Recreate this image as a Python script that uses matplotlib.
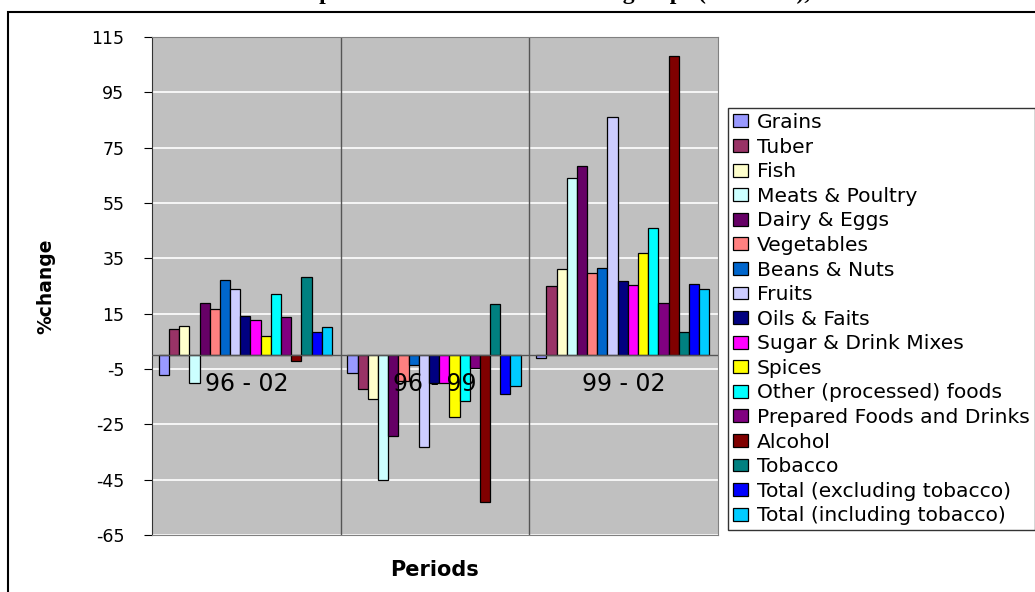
import matplotlib.pyplot as plt
import matplotlib.patches as mpatches
import numpy as np

plt.rcParams['font.family'] = ['DejaVu Sans']
plt.rcParams['axes.unicode_minus'] = False

# data
periods = ['96 - 02', '96 - 99', '99 - 02']
items = ['Grains', 'Tuber', 'Fish', 'Meats & Poultry', 'Dairy & Eggs', 'Vegetables',
         'Beans & Nuts', 'Fruits', 'Oils & Faits', 'Sugar & Drink Mixes', 'Spices',
         'Other (processed) foods', 'Prepared Foods and Drinks', 'Alcohol', 'Tobacco',
         'Total (excluding tobacco)', 'Total (including tobacco)']
chg_96_02 = [-7.0, 9.6, 10.5, -10.0, 19.0, 16.8, 27.3, 23.9, 14.1, 12.7, 6.8,
             22.0, 13.8, -2.2, 28.2, 8.2, 10.0]
chg_96_99 = [-6.4, -12.4, -15.8, -45.2, -29.3, -9.5, -3.4, -33.1, -10.0, -10.0, -22.4,
             -16.4, -4.6, -53.0, 18.6, -13.9, -11.3]
chg_99_02 = [-1.0, 25.0, 31.0, 64.0, 68.2, 29.8, 31.6, 86.0, 26.8, 25.3, 36.8,
             45.8, 19.0, 108.0, 8.5, 25.7, 23.9]
colors = ['#9999FF', '#993366', '#FFFFCC', '#CCFFFF', '#660066', '#FF8080',
          '#0066CC', '#CCCCFF', '#000080', '#FF00FF', '#FFFF00', '#00FFFF',
          '#800080', '#800000', '#008080', '#0000FF', '#00CCFF']
yticks = np.arange(-65, 116, 20)

fig = plt.figure(figsize=(10.35, 5.92), dpi=100)
ax = fig.add_axes([152/1035, 1-535/592, 566/1035, 498/592])
ax.set_facecolor('#C0C0C0')

# outer chart border + title cut at the top edge
fig.patches.append(mpatches.Rectangle((8/1035, -0.1), 1.2, 1-12/592+0.1,
                                      transform=fig.transFigure, fill=False,
                                      edgecolor='black', linewidth=1.5))
fig.text(0.51, 1+1/592, 'Growth of mean expenditures since 1996 on food groups (observed), 1996 - 2002',
         ha='center', va='baseline', fontsize=17, fontweight='bold',
         family='Liberation Serif')

x = np.arange(len(periods))
n = len(items)
w = 0.054
for i in range(n):
    vals = [chg_96_02[i], chg_96_99[i], chg_99_02[i]]
    ax.bar(x + (i - (n - 1) / 2) * w - 0.005, vals, width=w, color=colors[i],
           edgecolor='black', linewidth=0.9, label=items[i], zorder=3)

ax.set_ylim(-65, 115)
ax.set_xlim(-0.5, 2.5)
ax.set_yticks(yticks)
ax.tick_params(axis='y', labelsize=12.5, length=6, pad=14)
ax.set_xticks([])
ax.yaxis.grid(True, color='white', linewidth=1.2, zorder=0)
ax.set_axisbelow(True)
ax.axhline(0, color='#555555', linewidth=1, zorder=4)
for b in [0.5, 1.5]:
    ax.axvline(b, color='#555555', linewidth=1, zorder=2)
for s in ['top', 'right', 'bottom']:
    ax.spines[s].set_color('#808080')
ax.spines['left'].set_color('#333333')

for xi, p in zip(x, periods):
    ax.text(xi, -10.6, p, ha='center', va='center', fontsize=17, zorder=5)

ax.set_ylabel('%change', fontsize=13.5, fontweight='bold')
ax.yaxis.set_label_coords(-0.17, 0.5)
fig.text(435/1035, 1-570/592, 'Periods', ha='center', va='center',
         fontsize=15, fontweight='bold')

leg = ax.legend(loc='upper left', bbox_to_anchor=(728/1035, 1-108/592),
                bbox_transform=fig.transFigure, fontsize=14.6, frameon=True,
                fancybox=False, edgecolor='#333333', framealpha=1,
                handlelength=0.72, handleheight=0.6, handletextpad=0.45,
                labelspacing=0.275, borderpad=0.25, borderaxespad=0)
leg.get_frame().set_linewidth(1)

fig.savefig('out.png', dpi=100)
